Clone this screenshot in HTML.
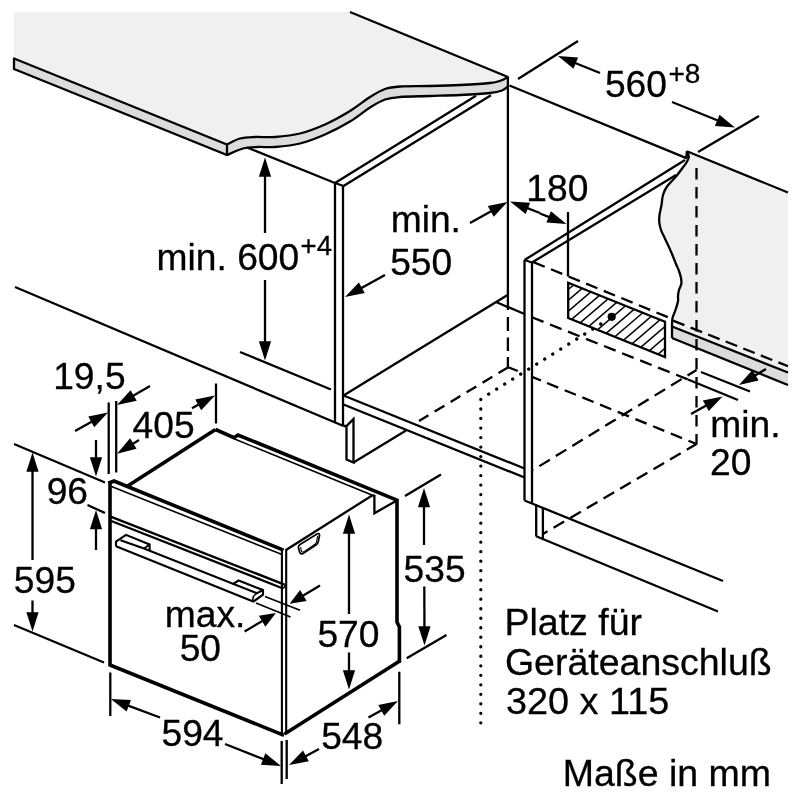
<!DOCTYPE html>
<html lang="de"><head><meta charset="utf-8"><title>Einbaumaße</title>
<style>
html,body{margin:0;padding:0;background:#fff;}
body{width:800px;height:800px;overflow:hidden;}
svg{display:block;will-change:transform;filter:grayscale(1);}
svg text{font-family:"Liberation Sans",Arial,Helvetica,sans-serif;fill:#000;stroke:#000;stroke-width:0.3;}
</style></head><body>
<svg width="800" height="800" viewBox="0 0 800 800" stroke="#000" fill="none" stroke-linecap="butt" stroke-linejoin="miter">
<path d="M14,12 L350,12 L508,77 C506.83,77.58 504.00,79.50 501,80.5 C498.00,81.50 496.83,82.25 490,83 C483.17,83.75 470.00,84.50 460,85 C450.00,85.50 440.00,85.75 430,86 C420.00,86.25 407.50,86.00 400,86.5 C392.50,87.00 390.00,87.25 385,89 C380.00,90.75 375.83,93.33 370,97 C364.17,100.67 357.50,106.42 350,111 C342.50,115.58 333.33,120.75 325,124.5 C316.67,128.25 308.33,131.42 300,133.5 C291.67,135.58 282.50,136.42 275,137 C267.50,137.58 260.83,136.75 255,137 C249.17,137.25 244.67,137.25 240,138.5 C235.33,139.75 229.17,143.50 227,144.5 L14,58.5 Z" fill="#f0f0f0" stroke="none"/>
<path d="M14,58.5 L227,144.5  C229.17,143.50 235.33,139.75 240,138.5 C244.67,137.25 249.17,137.25 255,137 C260.83,136.75 267.50,137.58 275,137 C282.50,136.42 291.67,135.58 300,133.5 C308.33,131.42 316.67,128.25 325,124.5 C333.33,120.75 342.50,115.58 350,111 C357.50,106.42 364.17,100.67 370,97 C375.83,93.33 380.00,90.75 385,89 C390.00,87.25 392.50,87.00 400,86.5 C407.50,86.00 420.00,86.25 430,86 C440.00,85.75 450.00,85.50 460,85 C470.00,84.50 483.17,83.75 490,83 C496.83,82.25 498.00,81.50 501,80.5 C504.00,79.50 506.83,77.58 508,77 L508.5,86 L508.5,86 C507.42,86.75 505.08,89.33 502,90.5 C498.92,91.67 497.00,92.25 490,93 C483.00,93.75 470.00,94.50 460,95 C450.00,95.50 440.00,95.67 430,96 C420.00,96.33 407.50,96.42 400,97 C392.50,97.58 390.00,97.75 385,99.5 C380.00,101.25 375.83,103.83 370,107.5 C364.17,111.17 357.50,117.00 350,121.5 C342.50,126.00 333.33,130.83 325,134.5 C316.67,138.17 308.33,141.42 300,143.5 C291.67,145.58 282.00,146.42 275,147 C268.00,147.58 263.33,146.75 258,147 C252.67,147.25 248.17,147.17 243,148.5 C237.83,149.83 229.67,153.92 227,155 L14,69 Z" fill="#dcdcdc" stroke="none"/>
<line x1="350" y1="12" x2="508" y2="77" stroke-width="2.3" />
<path d="M14,58.5 L227,144.5  C229.17,143.50 235.33,139.75 240,138.5 C244.67,137.25 249.17,137.25 255,137 C260.83,136.75 267.50,137.58 275,137 C282.50,136.42 291.67,135.58 300,133.5 C308.33,131.42 316.67,128.25 325,124.5 C333.33,120.75 342.50,115.58 350,111 C357.50,106.42 364.17,100.67 370,97 C375.83,93.33 380.00,90.75 385,89 C390.00,87.25 392.50,87.00 400,86.5 C407.50,86.00 420.00,86.25 430,86 C440.00,85.75 450.00,85.50 460,85 C470.00,84.50 483.17,83.75 490,83 C496.83,82.25 498.00,81.50 501,80.5 C504.00,79.50 506.83,77.58 508,77" stroke-width="2.3"/>
<path d="M14,69 L227,155  C229.67,153.92 237.83,149.83 243,148.5 C248.17,147.17 252.67,147.25 258,147 C263.33,146.75 268.00,147.58 275,147 C282.00,146.42 291.67,145.58 300,143.5 C308.33,141.42 316.67,138.17 325,134.5 C333.33,130.83 342.50,126.00 350,121.5 C357.50,117.00 364.17,111.17 370,107.5 C375.83,103.83 380.00,101.25 385,99.5 C390.00,97.75 392.50,97.58 400,97 C407.50,96.42 420.00,96.33 430,96 C440.00,95.67 450.00,95.50 460,95 C470.00,94.50 483.00,93.75 490,93 C497.00,92.25 498.92,91.67 502,90.5 C505.08,89.33 507.42,86.75 508.5,86" stroke-width="2.3"/>
<line x1="14" y1="57.6" x2="14" y2="69.9" stroke-width="2.3" />
<line x1="227" y1="144.5" x2="227" y2="155" stroke-width="2.3" />
<line x1="247" y1="147.5" x2="335" y2="183" stroke-width="2.3" />
<line x1="335" y1="183" x2="476" y2="95.7" stroke-width="2.3" />
<line x1="343.5" y1="186" x2="491" y2="95.3" stroke-width="2.3" />
<line x1="335" y1="183" x2="343.5" y2="186" stroke-width="2.3" />
<line x1="335" y1="183" x2="335" y2="422.5" stroke-width="2.3" />
<line x1="343" y1="186" x2="343" y2="426" stroke-width="2.3" />
<line x1="507.9" y1="76.5" x2="507.9" y2="296" stroke-width="2.3" />
<line x1="507.9" y1="296" x2="507.9" y2="367.3" stroke-width="2.3" stroke-dasharray="14 7 14 6.5 13.5 6 10.3 50" stroke-dashoffset="0"/>
<line x1="509.5" y1="85.5" x2="687" y2="158.4" stroke-width="2.3" />
<path d="M686.9,151.2 C687.22,152.17 688.87,155.12 688.8,157 C688.73,158.88 687.80,160.33 686.5,162.5 C685.20,164.67 682.75,167.67 681,170 C679.25,172.33 678.33,173.75 676,176.5 C673.67,179.25 669.17,183.42 667,186.5 C664.83,189.58 663.92,191.92 663,195 C662.08,198.08 662.08,201.67 661.5,205 C660.92,208.33 659.87,212.08 659.5,215 C659.13,217.92 659.05,220.00 659.3,222.5 C659.55,225.00 660.22,227.67 661,230 C661.78,232.33 662.83,234.00 664,236.5 C665.17,239.00 666.67,242.08 668,245 C669.33,247.92 670.67,250.83 672,254 C673.33,257.17 674.83,261.17 676,264 C677.17,266.83 678.17,268.67 679,271 C679.83,273.33 680.62,275.83 681,278 C681.38,280.17 681.63,282.00 681.3,284 C680.97,286.00 679.55,288.00 679,290 C678.45,292.00 678.17,294.17 678,296 C677.83,297.83 678.42,298.67 678,301 C677.58,303.33 676.42,307.17 675.5,310 C674.58,312.83 673.08,315.50 672.5,318 C671.92,320.50 672.08,323.83 672,325 L672,326 L788,372 L788,192.3 L686.9,151.2 Z" fill="#f0f0f0" stroke="none"/>
<path d="M672,326 L788,372 L788,385 L672,338 Z" fill="#dcdcdc" stroke="none"/>
<path d="M686.2,158 L686.9,151.2  C687.22,152.17 688.87,155.12 688.8,157 C688.73,158.88 687.80,160.33 686.5,162.5 C685.20,164.67 682.75,167.67 681,170 C679.25,172.33 678.33,173.75 676,176.5 C673.67,179.25 669.17,183.42 667,186.5 C664.83,189.58 663.92,191.92 663,195 C662.08,198.08 662.08,201.67 661.5,205 C660.92,208.33 659.87,212.08 659.5,215 C659.13,217.92 659.05,220.00 659.3,222.5 C659.55,225.00 660.22,227.67 661,230 C661.78,232.33 662.83,234.00 664,236.5 C665.17,239.00 666.67,242.08 668,245 C669.33,247.92 670.67,250.83 672,254 C673.33,257.17 674.83,261.17 676,264 C677.17,266.83 678.17,268.67 679,271 C679.83,273.33 680.62,275.83 681,278 C681.38,280.17 681.63,282.00 681.3,284 C680.97,286.00 679.55,288.00 679,290 C678.45,292.00 678.17,294.17 678,296 C677.83,297.83 678.42,298.67 678,301 C677.58,303.33 676.42,307.17 675.5,310 C674.58,312.83 673.08,315.50 672.5,318 C671.92,320.50 672.08,323.83 672,325 L672,338" stroke-width="2.3"/>
<line x1="686.9" y1="151.2" x2="788" y2="192.5" stroke-width="2.3" />
<line x1="672" y1="326.5" x2="788" y2="372.5" stroke-width="2.3" />
<line x1="672" y1="338" x2="788" y2="385" stroke-width="2.3" />
<line x1="673" y1="320.6" x2="788" y2="366.2" stroke-width="2.3" stroke-dasharray="12.3 6.6" stroke-dashoffset="0"/>
<line x1="696.5" y1="168" x2="696.5" y2="444.5" stroke-width="2.3" stroke-dasharray="11.6 7.4" stroke-dashoffset="0"/>
<line x1="524.5" y1="260" x2="685" y2="160" stroke-width="2.3" />
<line x1="532" y1="262.5" x2="676" y2="175" stroke-width="2.3" />
<line x1="524.5" y1="260" x2="532" y2="262.5" stroke-width="2.3" />
<line x1="524.5" y1="260" x2="524.5" y2="500.5" stroke-width="2.3" />
<line x1="532" y1="262.5" x2="532" y2="503.5" stroke-width="2.3" />
<line x1="524.5" y1="500.5" x2="532" y2="503.5" stroke-width="2.3" />
<line x1="536.2" y1="504.5" x2="536.2" y2="536.5" stroke-width="2.3" />
<line x1="542.9" y1="507.5" x2="542.9" y2="540" stroke-width="2.3" />
<line x1="532" y1="503.5" x2="723" y2="581" stroke-width="2.3" />
<line x1="536.2" y1="536.3" x2="718" y2="611.5" stroke-width="2.3" />
<line x1="343.5" y1="395.5" x2="508" y2="294.7" stroke-width="2.3" />
<line x1="343.5" y1="395.5" x2="524.5" y2="468.5" stroke-width="2.3" />
<line x1="343.5" y1="404.5" x2="524.5" y2="477.5" stroke-width="2.3" />
<line x1="496" y1="302" x2="524.5" y2="314" stroke-width="2.3" />
<line x1="15" y1="287" x2="343.5" y2="426" stroke-width="2.3" />
<line x1="240" y1="352" x2="331" y2="389.5" stroke-width="2.3" />
<path d="M343.5,426 L346.5,426 L353.5,419 L353.5,462.5 L346.5,459.5 L346.5,426" stroke-width="2.3" fill="none" />
<line x1="353.5" y1="462.5" x2="406" y2="430.5" stroke-width="2.3" />
<line x1="532" y1="261.5" x2="672" y2="318.8" stroke-width="2.3" stroke-dasharray="12.2 6.8" stroke-dashoffset="-1.5"/>
<line x1="532" y1="317.3" x2="688" y2="379.5" stroke-width="2.3" stroke-dasharray="12.4 7" stroke-dashoffset="0"/>
<line x1="688" y1="379.5" x2="738" y2="400" stroke-width="2.3" />
<line x1="701" y1="372" x2="750" y2="391.5" stroke-width="2.3" />
<line x1="508.3" y1="367.2" x2="419" y2="421" stroke-width="2.3" stroke-dasharray="11.4 7.25" stroke-dashoffset="0"/>
<line x1="508.3" y1="367.2" x2="696.5" y2="444" stroke-width="2.3" stroke-dasharray="10.2 16.2 8.9 6.5 12.1 7 12.1 7 12.1 7 12.1 7 12.1 7 12.1 7 12.1 7 12.1 7 12.1 7" stroke-dashoffset="0"/>
<line x1="696.5" y1="370" x2="533" y2="470" stroke-width="2.3" stroke-dasharray="12.3 7" stroke-dashoffset="1.8"/>
<line x1="696.5" y1="444" x2="543" y2="534" stroke-width="2.3" stroke-dasharray="12.3 7" stroke-dashoffset="1"/>
<defs><clipPath id="hb"><path d="M568.2,282.7 L665,321.7 L665,357 L568.2,318 Z"/></clipPath></defs>
<g clip-path="url(#hb)" stroke-width="1.5">
<line x1="411.1" y1="370" x2="539.0" y2="260"/>
<line x1="423.8" y1="370" x2="551.7" y2="260"/>
<line x1="436.5" y1="370" x2="564.4" y2="260"/>
<line x1="449.2" y1="370" x2="577.1" y2="260"/>
<line x1="461.9" y1="370" x2="589.8" y2="260"/>
<line x1="474.6" y1="370" x2="602.5" y2="260"/>
<line x1="487.3" y1="370" x2="615.2" y2="260"/>
<line x1="500.0" y1="370" x2="627.9" y2="260"/>
<line x1="512.7" y1="370" x2="640.6" y2="260"/>
<line x1="525.4" y1="370" x2="653.3" y2="260"/>
<line x1="538.1" y1="370" x2="666.0" y2="260"/>
<line x1="550.8" y1="370" x2="678.7" y2="260"/>
<line x1="563.5" y1="370" x2="691.4" y2="260"/>
<line x1="576.2" y1="370" x2="704.1" y2="260"/>
<line x1="588.9" y1="370" x2="716.8" y2="260"/>
<line x1="601.6" y1="370" x2="729.5" y2="260"/>
<line x1="614.3" y1="370" x2="742.2" y2="260"/>
<line x1="627.0" y1="370" x2="754.9" y2="260"/>
<line x1="639.7" y1="370" x2="767.6" y2="260"/>
<line x1="652.4" y1="370" x2="780.3" y2="260"/>
<line x1="665.1" y1="370" x2="793.0" y2="260"/>
<line x1="677.8" y1="370" x2="805.7" y2="260"/>
<line x1="690.5" y1="370" x2="818.4" y2="260"/>
<line x1="703.2" y1="370" x2="831.1" y2="260"/>
<line x1="715.9" y1="370" x2="843.8" y2="260"/>
<line x1="728.6" y1="370" x2="856.5" y2="260"/>
</g>
<path d="M568.2,282.7 L665,321.7 L665,357 L568.2,318 Z" stroke-width="2.3" fill="none" />
<line x1="568" y1="212" x2="568" y2="276.5" stroke-width="2.3" />
<circle cx="611.7" cy="316.8" r="4.1" fill="#000" stroke="none"/>
<line x1="600.8" y1="324" x2="480.8" y2="399" stroke-width="3.3" stroke-dasharray="0.01 9.434" stroke-linecap="round"/>
<line x1="480.8" y1="399.5" x2="480.8" y2="723" stroke-width="3.3" stroke-dasharray="0.01 9.5" stroke-linecap="round"/>
<line x1="110" y1="481.2" x2="110" y2="666.5" stroke-width="3.6" />
<path d="M108.3,483.2 L114,481 L283.5,550.2" stroke-width="3.6" fill="none" />
<line x1="111.5" y1="486.6" x2="282" y2="554.6" stroke-width="1.6" />
<line x1="110" y1="516.3" x2="284.5" y2="584.6" stroke-width="2.4" />
<line x1="110" y1="520.4" x2="283" y2="588.4" stroke-width="2.2" />
<path d="M284.3,584.5 L285.6,586.2 L283,588.4" stroke-width="1.6" fill="none" />
<line x1="110" y1="665" x2="284" y2="735.3" stroke-width="3.6" />
<line x1="281.9" y1="550" x2="281.9" y2="734.5" stroke-width="2.1" />
<line x1="286.2" y1="549" x2="286.2" y2="733" stroke-width="2.1" />
<line x1="126.5" y1="486.8" x2="215.5" y2="429.5" stroke-width="3.6" />
<path d="M215.5,429.5 L234,437.7 L238,435 L397.5,500.3" stroke-width="3.6" fill="none" />
<line x1="234" y1="438.8" x2="372.5" y2="495.2" stroke-width="1.6" />
<line x1="286" y1="550" x2="372.5" y2="495.2" stroke-width="2.3" />
<path d="M372.5,495.2 L374.4,495.8 L374.4,513.2 L396,501" stroke-width="2.3" fill="none" />
<path d="M397,499 L397,622 L399.4,627 L399.4,662.5" stroke-width="3.6" fill="none" />
<line x1="284.5" y1="734" x2="400.5" y2="660.5" stroke-width="3.6" />
<path d="M298.4,547.5 Q298.2,545.6 300,544.5 L317,534 Q319.8,532.6 319.5,535.5 L318.3,541.5 Q318,543.8 316,545 L304.5,552.6 Q300.5,555.6 299.6,552 Z" stroke-width="1.7"/>
<path d="M300.6,547.2 L301.4,551 Q302,553 304,551.6 L315,544.3 Q316.4,543.4 316.7,541.6 L317.6,535.8" stroke-width="1.1"/>
<path d="M116,546.4 L116,541.6 L126,534.9 L149.6,544.5 L149.6,549.9" stroke-width="2.1" fill="none" />
<path d="M120.5,540.3 L144,548.5 L257,593.2 L263,590" stroke-width="2.1" fill="none" />
<line x1="144" y1="548.5" x2="149.6" y2="544.5" stroke-width="1.8" />
<line x1="116" y1="546.3" x2="252.5" y2="601.2" stroke-width="2.1" />
<path d="M232.5,584.3 L238.5,580.5 L263,590 L263,594.6 L253.3,601.6 L252.3,601.2" stroke-width="2.1" fill="none" />
<line x1="257" y1="593.2" x2="253.5" y2="596" stroke-width="1.6" />
<line x1="253.5" y1="596" x2="252.5" y2="601" stroke-width="1.6" />
<line x1="265" y1="233" x2="265.0" y2="174.7" stroke-width="2.3" />
<polygon points="265,157.5 271.10,176.70 258.90,176.70" fill="#000" stroke="none"/>
<line x1="265" y1="280" x2="265.0" y2="343.3" stroke-width="2.3" />
<polygon points="265,360.5 258.90,341.30 271.10,341.30" fill="#000" stroke="none"/>
<line x1="385" y1="275" x2="360.07" y2="288.71" stroke-width="2.3" />
<polygon points="345,297 358.88,282.40 364.76,293.09" fill="#000" stroke="none"/>
<line x1="470" y1="223" x2="492.49" y2="210.4" stroke-width="2.3" />
<polygon points="507.5,202 493.73,216.70 487.77,206.06" fill="#000" stroke="none"/>
<line x1="540" y1="213" x2="526.06" y2="207.66" stroke-width="2.3" />
<polygon points="510,201.5 530.11,202.68 525.74,214.07" fill="#000" stroke="none"/>
<line x1="540" y1="213.5" x2="550.51" y2="217.66" stroke-width="2.3" />
<polygon points="566.5,224 546.40,222.60 550.90,211.26" fill="#000" stroke="none"/>
<line x1="518" y1="79" x2="578" y2="41" stroke-width="2.3" />
<line x1="698" y1="152" x2="759" y2="116" stroke-width="2.3" />
<line x1="600" y1="73" x2="573.94" y2="62.45" stroke-width="2.3" />
<polygon points="558,56 578.09,57.55 573.51,68.86" fill="#000" stroke="none"/>
<line x1="672" y1="102" x2="719.06" y2="121.05" stroke-width="2.3" />
<polygon points="735,127.5 714.91,125.95 719.49,114.64" fill="#000" stroke="none"/>
<line x1="766" y1="369" x2="753.8" y2="376.23" stroke-width="2.3" />
<polygon points="739,385 752.41,369.96 758.63,380.46" fill="#000" stroke="none"/>
<line x1="691" y1="414" x2="707.57" y2="404.77" stroke-width="2.3" />
<polygon points="722.6,396.4 708.79,411.07 702.86,400.41" fill="#000" stroke="none"/>
<line x1="108.7" y1="402.5" x2="108.7" y2="474" stroke-width="2.3" />
<line x1="116.2" y1="401" x2="116.2" y2="472.5" stroke-width="2.3" />
<line x1="75" y1="431" x2="93.0" y2="420.91" stroke-width="2.3" />
<polygon points="108,412.5 94.24,427.21 88.27,416.57" fill="#000" stroke="none"/>
<line x1="150" y1="386" x2="131.91" y2="396.42" stroke-width="2.3" />
<polygon points="117,405 130.60,390.13 136.68,400.71" fill="#000" stroke="none"/>
<line x1="139" y1="440" x2="131.6" y2="444.61" stroke-width="2.3" />
<polygon points="117,453.7 130.07,438.37 136.52,448.73" fill="#000" stroke="none"/>
<line x1="192" y1="408.3" x2="199.97" y2="403.86" stroke-width="2.3" />
<polygon points="215,395.5 201.19,410.17 195.26,399.51" fill="#000" stroke="none"/>
<line x1="216" y1="383.5" x2="216" y2="423.5" stroke-width="2.3" />
<line x1="14" y1="444" x2="105" y2="482.5" stroke-width="2.3" />
<line x1="96" y1="440" x2="96.0" y2="459.3" stroke-width="2.3" />
<polygon points="96,476.5 89.90,457.30 102.10,457.30" fill="#000" stroke="none"/>
<line x1="96" y1="550" x2="96.0" y2="527.2" stroke-width="2.3" />
<polygon points="96,510 102.10,529.20 89.90,529.20" fill="#000" stroke="none"/>
<line x1="87.5" y1="505" x2="105" y2="513" stroke-width="2.3" />
<line x1="32.5" y1="560" x2="32.5" y2="469.7" stroke-width="2.3" />
<polygon points="32.5,452.5 38.60,471.70 26.40,471.70" fill="#000" stroke="none"/>
<line x1="32.5" y1="600.5" x2="32.5" y2="614.3" stroke-width="2.3" />
<polygon points="32.5,631.5 26.40,612.30 38.60,612.30" fill="#000" stroke="none"/>
<line x1="14" y1="625" x2="104" y2="662.5" stroke-width="2.3" />
<line x1="110.3" y1="672.5" x2="110.3" y2="716" stroke-width="2.3" />
<line x1="160" y1="717.5" x2="126.9" y2="705.05" stroke-width="2.3" />
<polygon points="110.8,699 130.92,700.05 126.62,711.47" fill="#000" stroke="none"/>
<line x1="225" y1="744" x2="264.99" y2="759.71" stroke-width="2.3" />
<polygon points="281,766 260.90,764.66 265.36,753.30" fill="#000" stroke="none"/>
<line x1="281.7" y1="741" x2="281.7" y2="784" stroke-width="2.3" />
<line x1="286.7" y1="740" x2="286.7" y2="779" stroke-width="2.3" />
<line x1="319" y1="749" x2="304.18" y2="756.91" stroke-width="2.3" />
<polygon points="289,765 303.07,750.58 308.81,761.35" fill="#000" stroke="none"/>
<line x1="368.5" y1="717.5" x2="382.99" y2="709.4" stroke-width="2.3" />
<polygon points="398,701 384.22,715.70 378.27,705.05" fill="#000" stroke="none"/>
<line x1="399.3" y1="671.7" x2="399.3" y2="724.3" stroke-width="2.3" />
<line x1="349" y1="614" x2="349.0" y2="531.7" stroke-width="2.3" />
<polygon points="349,514.5 355.10,533.70 342.90,533.70" fill="#000" stroke="none"/>
<line x1="349" y1="652.5" x2="349.0" y2="672.3" stroke-width="2.3" />
<polygon points="349,689.5 342.90,670.30 355.10,670.30" fill="#000" stroke="none"/>
<line x1="405" y1="496" x2="441" y2="474.5" stroke-width="2.3" />
<line x1="424" y1="545" x2="424.0" y2="505.2" stroke-width="2.3" />
<polygon points="424,488 430.10,507.20 417.90,507.20" fill="#000" stroke="none"/>
<line x1="424.3" y1="586.5" x2="424.44" y2="628.3" stroke-width="2.3" />
<polygon points="424.5,645.5 418.33,626.32 430.53,626.28" fill="#000" stroke="none"/>
<line x1="406.7" y1="658.3" x2="446.5" y2="635" stroke-width="2.3" />
<line x1="265" y1="596.5" x2="300" y2="610.3" stroke-width="1.7" />
<line x1="256" y1="603" x2="290.5" y2="617" stroke-width="1.7" />
<line x1="320" y1="585.6" x2="301.63" y2="596.54" stroke-width="2.3" />
<polygon points="289.6,603.7 300.07,590.02 306.62,601.01" fill="#000" stroke="none"/>
<line x1="244.6" y1="631.5" x2="263.85" y2="620.12" stroke-width="2.3" />
<polygon points="275.9,613 265.38,626.65 258.87,615.63" fill="#000" stroke="none"/>
<text x="156.6" y="269.9" font-size="37.2" >min. 600</text>
<text x="300.6" y="255.1" font-size="27.5" >+4</text>
<text x="390.7" y="232.2" font-size="37.2" >min.</text>
<text x="390.2" y="274.8" font-size="37.2" >550</text>
<text x="526.3" y="201.1" font-size="37.2" >180</text>
<text x="604.9" y="96.6" font-size="37.2" >560</text>
<text x="668.4" y="82.5" font-size="28" >+8</text>
<text x="710.3" y="437" font-size="37.2" >min.</text>
<text x="710.1" y="475.2" font-size="37.2" >20</text>
<text x="53.2" y="388.5" font-size="37.2" >19,5</text>
<text x="132.6" y="438" font-size="37.2" >405</text>
<text x="46.7" y="504.3" font-size="37.2" >96</text>
<text x="13.8" y="592.8" font-size="37.2" >595</text>
<text x="161.5" y="746" font-size="37.2" >594</text>
<text x="321.2" y="749" font-size="37.2" >548</text>
<text x="317.4" y="647.2" font-size="37.2" >570</text>
<text x="403.6" y="582" font-size="37.2" >535</text>
<text x="164.8" y="626.5" font-size="37.2" >max.</text>
<text x="179.7" y="661" font-size="37.2" >50</text>
<text x="504.5" y="635" font-size="37.5" >Platz für</text>
<text x="504.9" y="675" font-size="37.5" >Geräteanschluß</text>
<text x="506" y="713.8" font-size="37.8" >320 x 115</text>
<text x="562.7" y="785.8" font-size="37.5" >Maße in mm</text>
</svg>
</body></html>
